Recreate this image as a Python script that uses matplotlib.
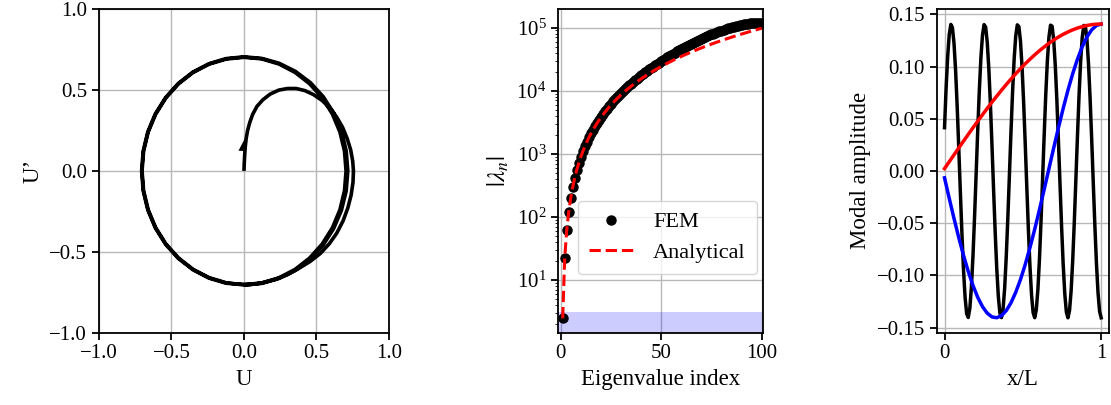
import matplotlib
matplotlib.use("Agg")
import matplotlib.pyplot as plt
import numpy as np

plt.rcParams['font.family'] = 'serif'
plt.rcParams['font.serif'] = ['Liberation Serif', 'DejaVu Serif']
plt.rcParams['mathtext.fontset'] = 'stix'
plt.rcParams['axes.linewidth'] = 1.3
plt.rcParams['xtick.major.width'] = 1.3
plt.rcParams['ytick.major.width'] = 1.3
plt.rcParams['xtick.major.size'] = 5
plt.rcParams['ytick.major.size'] = 5
plt.rcParams['axes.unicode_minus'] = True

FS_TICK = 15
FS_LABEL = 16.5

# ---------------- Phase portrait data (U, U') ----------------
phase_u = [
    0.000, 0.002, 0.005, 0.009, 0.015, 0.025, 0.040, 0.060, 0.090, 0.130,
    0.180, 0.240, 0.300, 0.360, 0.420, 0.480, 0.540, 0.592, 0.638, 0.680,
    0.712, 0.736, 0.750, 0.755, 0.752, 0.739, 0.716, 0.683, 0.640, 0.589,
    0.528, 0.457, 0.381, 0.300, 0.215, 0.125, 0.040,
    # loop 1
    -0.1226, -0.2415, -0.3530, -0.4538, -0.5408, -0.6114, -0.6634, -0.6953, -0.7060,
    -0.6953, -0.6634, -0.6114, -0.5408, -0.4538, -0.3530, -0.2415, -0.1226, 0.0000,
    0.1227, 0.2425, 0.3555, 0.4583, 0.5469, 0.6192, 0.6728, 0.7051, 0.7160,
    0.7051, 0.6719, 0.6183, 0.5462, 0.4570, 0.3550, 0.2421, 0.1227, 0.0000,
    # loop 2
    -0.1220, -0.2404, -0.3515, -0.4519, -0.5385, -0.6088, -0.6606, -0.6923, -0.7030,
    -0.6923, -0.6606, -0.6088, -0.5385, -0.4519, -0.3515, -0.2404, -0.1220, 0.0000,
    0.1222, 0.2408, 0.3520, 0.4525, 0.5393, 0.6097, 0.6616, 0.6933, 0.7040,
    0.6933, 0.6616, 0.6097, 0.5393, 0.4525, 0.3520, 0.2408, 0.1222, 0.0000,
]
phase_du = [
    0.000, 0.050, 0.100, 0.150, 0.200, 0.250, 0.300, 0.350, 0.400, 0.440,
    0.475, 0.500, 0.510, 0.510, 0.497, 0.472, 0.435, 0.390, 0.335, 0.270,
    0.200, 0.130, 0.060, 0.000, -0.070, -0.150, -0.230, -0.310, -0.385, -0.450,
    -0.510, -0.560, -0.602, -0.642, -0.672, -0.693, -0.704,
    # loop 1
    -0.6953, -0.6634, -0.6114, -0.5408, -0.4538, -0.3530, -0.2415, -0.1226, 0.0000,
    0.1226, 0.2415, 0.3530, 0.4538, 0.5408, 0.6114, 0.6634, 0.6953, 0.7060,
    0.6962, 0.6663, 0.6157, 0.5462, 0.4590, 0.3575, 0.2449, 0.1243, 0.0000,
    -0.1243, -0.2445, -0.3570, -0.4583, -0.5446, -0.6149, -0.6653, -0.6962, -0.7060,
    # loop 2
    -0.6923, -0.6606, -0.6088, -0.5385, -0.4519, -0.3515, -0.2404, -0.1220, 0.0000,
    0.1220, 0.2404, 0.3515, 0.4519, 0.5385, 0.6088, 0.6606, 0.6923, 0.7030,
    0.6933, 0.6616, 0.6097, 0.5393, 0.4525, 0.3520, 0.2408, 0.1222, 0.0000,
    -0.1222, -0.2408, -0.3520, -0.4525, -0.5393, -0.6097, -0.6616, -0.6933, -0.7040,
]
arrow_tail = (0.007, 0.120)
arrow_vec = (0.006, 0.092)

# ---------------- Eigenvalue data ----------------
eig_index = list(range(1, 101))
fem_eigs = [
    2.467, 22.21, 61.72, 121.0, 200.2, 299.3, 418.4, 557.7, 717.3, 897.4,
    1098, 1320, 1562, 1826, 2111, 2418, 2748, 3100, 3474, 3872,
    4293, 4738, 5208, 5702, 6222, 6768, 7340, 7939, 8565, 9220,
    9903, 10615, 11358, 12131, 12936, 13772, 14642, 15545, 16483, 17455,
    18464, 19510, 20593, 21715, 22876, 24077, 25319, 26603, 27929, 29299,
    30712, 32171, 33675, 35225, 36821, 38465, 40155, 41893, 43679, 45512,
    47393, 49321, 51295, 53315, 55380, 57488, 59638, 61827, 64054, 66316,
    68610, 70932, 73279, 75646, 78028, 80419, 82815, 85209, 87593, 89961,
    92304, 94614, 96882, 99099, 101256, 103344, 105350, 107268, 109085, 110791,
    112380, 113839, 115161, 116336, 117359, 118222, 118920, 119447, 119800, 119978,
]
analytical_eigs = [
    2.467, 22.21, 61.69, 120.9, 199.9, 298.6, 417.0, 555.2, 713.1, 890.7,
    1088, 1305, 1542, 1799, 2075, 2371, 2687, 3023, 3378, 3753,
    4148, 4562, 4996, 5451, 5924, 6418, 6931, 7464, 8017, 8589,
    9181, 9793, 10425, 11076, 11747, 12438, 13149, 13879, 14629, 15399,
    16189, 16998, 17827, 18676, 19544, 20433, 21341, 22268, 23216, 24183,
    25170, 26177, 27203, 28249, 29315, 30401, 31506, 32631, 33776, 34941,
    36125, 37329, 38553, 39797, 41060, 42343, 43646, 44968, 46311, 47673,
    49054, 50456, 51877, 53318, 54779, 56259, 57760, 59279, 60819, 62378,
    63957, 65556, 67175, 68813, 70471, 72149, 73847, 75564, 77301, 79058,
    80834, 82631, 84447, 86283, 88138, 90013, 91908, 93823, 95757, 97711,
]
band_low, band_high = 1.0, 3.1

# ---------------- Mode shape data ----------------
x_nodes = np.linspace(0, 1, 100)
x_sparse = x_nodes[::3]
mode1 = [
    0.00221, 0.00883, 0.01544, 0.02201, 0.02853, 0.03499, 0.04137, 0.04766, 0.05384, 0.05991,
    0.06584, 0.07162, 0.07725, 0.08270, 0.08797, 0.09305, 0.09792, 0.10257, 0.10699, 0.11118,
    0.11511, 0.11880, 0.12222, 0.12536, 0.12823, 0.13082, 0.13311, 0.13511, 0.13681, 0.13821,
    0.13930, 0.14007, 0.14055, 0.14070,
]
mode2 = [
    -0.00663, -0.02636, -0.04558, -0.06388, -0.08090, -0.09632, -0.10981, -0.12111, -0.12999, -0.13628,
    -0.13985, -0.14063, -0.13861, -0.13381, -0.12635, -0.11630, -0.10407, -0.08969, -0.07352, -0.05588,
    -0.03713, -0.01763, 0.00221, 0.02201, 0.04137, 0.05991, 0.07725, 0.09305, 0.10699, 0.11880,
    0.12823, 0.13511, 0.13930, 0.14070,
]
mode10 = [
    0.0414, 0.0791, 0.1098, 0.1308, 0.1403, 0.1373, 0.1222, 0.0963, 0.0619, 0.0220,
    -0.0198, -0.0599, -0.0947, -0.1211, -0.1368, -0.1404, -0.1316, -0.1112, -0.0809, -0.0435,
    -0.0022, 0.0393, 0.0772, 0.1084, 0.1300, 0.1401, 0.1378, 0.1233, 0.0979, 0.0639,
    0.0242, -0.0176, -0.0579, -0.0930, -0.1200, -0.1363, -0.1405, -0.1324, -0.1125, -0.0827,
    -0.0456, -0.0044, 0.0371, 0.0754, 0.1070, 0.1291, 0.1399, 0.1382, 0.1244, 0.0995,
    0.0658, 0.0264, -0.0154, -0.0559, -0.0914, -0.1188, -0.1357, -0.1406, -0.1331, -0.1138,
    -0.0845, -0.0477, -0.0066, 0.0350, 0.0735, 0.1055, 0.1282, 0.1396, 0.1386, 0.1254,
    0.1010, 0.0678, 0.0285, -0.0132, -0.0538, -0.0897, -0.1176, -0.1351, -0.1407, -0.1338,
    -0.1151, -0.0862, -0.0497, -0.0088, 0.0328, 0.0716, 0.1041, 0.1273, 0.1393, 0.1390,
    0.1263, 0.1026, 0.0697, 0.0307, -0.0110, -0.0518, -0.0880, -0.1164, -0.1345, -0.1407,
]

fig = plt.figure(figsize=(11.11, 4.05), dpi=100)
bottom, height = 0.179, 0.798
ax1 = fig.add_axes([0.0891, bottom, 0.2610, height])
ax2 = fig.add_axes([0.5025, bottom, 0.1840, height])
ax3 = fig.add_axes([0.8431, bottom, 0.1551, height])

grid_kw = dict(color='#b8b8b8', lw=1.0)

# ---- Left: phase portrait
ax1.plot(phase_u, phase_du, color='k', lw=2.6, solid_capstyle='butt')
ax1.arrow(arrow_tail[0], arrow_tail[1], arrow_vec[0], arrow_vec[1], shape='right',
          head_width=0.09, head_length=0.09, length_includes_head=True,
          color='k', lw=0)
ax1.set_xlim(-1, 1)
ax1.set_ylim(-1, 1)
ax1.set_xticks([-1.0, -0.5, 0.0, 0.5, 1.0])
ax1.set_yticks([-1.0, -0.5, 0.0, 0.5, 1.0])
ax1.grid(True, **grid_kw)
ax1.set_axisbelow(True)
ax1.set_xlabel('U', fontsize=FS_LABEL)
ax1.set_ylabel('U\u2019', fontsize=FS_LABEL)
ax1.tick_params(labelsize=FS_TICK)

# ---- Middle: eigenvalues
ax2.axhspan(band_low, band_high, color='blue', alpha=0.2, lw=0)
ax2.plot(eig_index, fem_eigs, 'o', color='k', ms=6.5, label='FEM')
ax2.plot(eig_index, analytical_eigs, '--', color='red', lw=2.2, label='Analytical')
ax2.set_yscale('log')
ax2.set_ylim(1.47, 1.95e5)
ax2.set_xlim(-1.2, 100.5)
ax2.set_xticks([0, 50, 100])
ax2.grid(True, which='major', **grid_kw)
ax2.set_axisbelow(True)
ax2.set_xlabel('Eigenvalue index', fontsize=FS_LABEL)
ax2.set_ylabel(r'$|\lambda_n|$', fontsize=18)
ax2.tick_params(labelsize=FS_TICK)
ax2.legend(loc='lower right', bbox_to_anchor=(0.972, 0.181), borderaxespad=0,
           numpoints=1, fontsize=16, labelspacing=0.45, borderpad=0.5,
           handletextpad=0.9)

# ---- Right: mode shapes
ax3.plot(x_nodes, mode10, color='k', lw=2.5)
ax3.plot(x_sparse, mode2, color='blue', lw=2.5)
ax3.plot(x_sparse, mode1, color='red', lw=2.5)
ax3.set_xticks([0, 1])
ax3.set_yticks([-0.15, -0.10, -0.05, 0.0, 0.05, 0.10, 0.15])
ax3.grid(True, **grid_kw)
ax3.set_axisbelow(True)
ax3.set_xlabel('x/L', fontsize=FS_LABEL)
ax3.set_ylabel('Modal amplitude', fontsize=FS_LABEL)
ax3.tick_params(labelsize=FS_TICK)

fig.savefig('out.png', dpi=100)
